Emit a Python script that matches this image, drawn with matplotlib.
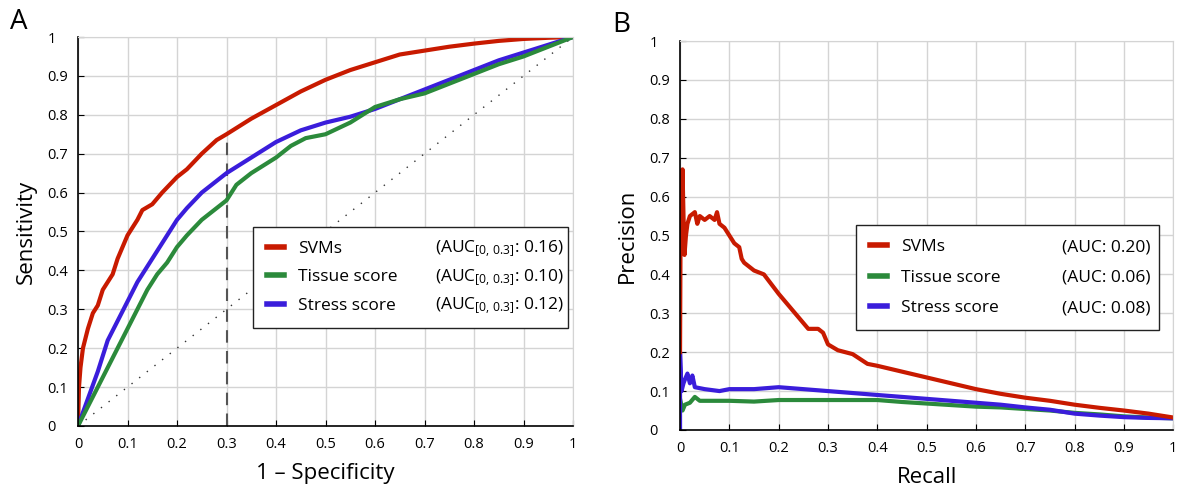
import numpy as np
import matplotlib.pyplot as plt
from matplotlib.lines import Line2D

plt.rcParams['font.family'] = ['Open Sans', 'DejaVu Sans']
plt.rcParams['mathtext.fontset'] = 'custom'
plt.rcParams['mathtext.rm'] = 'Open Sans'
plt.rcParams['mathtext.it'] = 'Open Sans:italic'

# ROC curves (1 - specificity, sensitivity)
svm_fpr = [0, 0.002, 0.005, 0.01, 0.02, 0.03, 0.04, 0.05, 0.06, 0.07, 0.08, 0.09, 0.1, 0.12, 0.13,
           0.15, 0.17, 0.2, 0.22, 0.25, 0.28, 0.3, 0.35, 0.4, 0.45, 0.5, 0.55, 0.6, 0.65, 0.7,
           0.75, 0.8, 0.85, 0.9, 0.95, 1]
svm_tpr = [0, 0.1, 0.15, 0.2, 0.25, 0.29, 0.31, 0.35, 0.37, 0.39, 0.43, 0.46, 0.49, 0.53, 0.555,
           0.57, 0.6, 0.64, 0.66, 0.7, 0.735, 0.75, 0.79, 0.825, 0.86, 0.89, 0.915, 0.935, 0.955, 0.965,
           0.975, 0.983, 0.99, 0.995, 0.998, 1]
tissue_fpr = [0, 0.02, 0.04, 0.06, 0.08, 0.1, 0.12, 0.14, 0.16, 0.18, 0.2, 0.22, 0.25, 0.28, 0.3,
              0.32, 0.35, 0.4, 0.43, 0.46, 0.5, 0.55, 0.6, 0.65, 0.7, 0.75, 0.8, 0.85, 0.9, 0.95, 1]
tissue_tpr = [0, 0.05, 0.1, 0.15, 0.2, 0.25, 0.3, 0.35, 0.39, 0.42, 0.46, 0.49, 0.53, 0.56, 0.58,
              0.62, 0.65, 0.69, 0.72, 0.74, 0.75, 0.78, 0.82, 0.84, 0.855, 0.88, 0.905, 0.93, 0.95, 0.975, 1]
stress_fpr = [0, 0.02, 0.04, 0.06, 0.08, 0.1, 0.12, 0.14, 0.16, 0.18, 0.2, 0.22, 0.25, 0.28, 0.3,
              0.35, 0.4, 0.45, 0.5, 0.55, 0.6, 0.65, 0.7, 0.75, 0.8, 0.85, 0.9, 0.95, 1]
stress_tpr = [0, 0.07, 0.14, 0.22, 0.27, 0.32, 0.37, 0.41, 0.45, 0.49, 0.53, 0.56, 0.6, 0.63, 0.65,
              0.69, 0.73, 0.76, 0.78, 0.795, 0.815, 0.84, 0.865, 0.89, 0.915, 0.94, 0.96, 0.98, 1]

# precision-recall curves
svm_rec = [0, 0.001, 0.003, 0.005, 0.007, 0.009, 0.012, 0.015, 0.02, 0.03, 0.035, 0.04, 0.05, 0.06,
           0.07, 0.075, 0.08, 0.09, 0.1, 0.11, 0.12, 0.125, 0.13, 0.15, 0.17, 0.2, 0.22, 0.24, 0.26,
           0.28, 0.29, 0.3, 0.32, 0.35, 0.38, 0.4, 0.45, 0.5, 0.55, 0.6, 0.65, 0.7, 0.75, 0.8, 0.85,
           0.9, 0.95, 1]
svm_prec = [0.2, 0.5, 0.55, 0.67, 0.55, 0.45, 0.5, 0.53, 0.55, 0.56, 0.53, 0.55, 0.54, 0.55,
            0.54, 0.56, 0.53, 0.52, 0.5, 0.48, 0.47, 0.44, 0.43, 0.41, 0.4, 0.35, 0.32, 0.29, 0.26,
            0.26, 0.25, 0.22, 0.205, 0.195, 0.17, 0.165, 0.15, 0.135, 0.12, 0.105, 0.093, 0.083, 0.075,
            0.065, 0.057, 0.05, 0.042, 0.032]
tissue_rec = [0, 0.005, 0.01, 0.02, 0.03, 0.04, 0.06, 0.1, 0.15, 0.2, 0.3, 0.4, 0.45, 0.5, 0.55,
              0.6, 0.65, 0.7, 0.75, 0.8, 0.85, 0.9, 0.95, 1]
tissue_prec = [0.08, 0.05, 0.065, 0.07, 0.085, 0.075, 0.075, 0.075, 0.073, 0.077, 0.077, 0.077, 0.072,
               0.068, 0.064, 0.06, 0.058, 0.054, 0.05, 0.044, 0.04, 0.035, 0.032, 0.03]
stress_rec = [0, 0, 0.003, 0.007, 0.01, 0.015, 0.02, 0.025, 0.03, 0.05, 0.08, 0.1, 0.15, 0.2, 0.25,
              0.3, 0.35, 0.4, 0.45, 0.5, 0.55, 0.6, 0.65, 0.7, 0.75, 0.8, 0.85, 0.9, 0.95, 1]
stress_prec = [0, 0.2, 0.1, 0.12, 0.13, 0.145, 0.12, 0.14, 0.11, 0.105, 0.1, 0.105, 0.105, 0.11, 0.105,
               0.1, 0.095, 0.09, 0.085, 0.08, 0.075, 0.07, 0.065, 0.058, 0.052, 0.042, 0.037, 0.033,
               0.031, 0.03]

names = ['SVMs', 'Tissue score', 'Stress score']
roc_auc = ['0.16', '0.10', '0.12']
pr_auc = ['0.20', '0.06', '0.08']
colors = ['#c81a00', '#2b8a3b', '#3a1ddb']

ticks = np.round(np.arange(0, 1.01, 0.1), 1)
tick_labels = ['0'] + ['%.1f' % t for t in ticks[1:-1]] + ['1']

fig = plt.figure(figsize=(12, 4.94), dpi=100)
ax1 = fig.add_axes([0.065, 0.1377, 0.4125, 0.7874])
ax2 = fig.add_axes([0.5667, 0.1296, 0.411, 0.7874])


def style(ax):
    ax.set_xlim(0, 1)
    ax.set_ylim(0, 1)
    ax.set_xticks(ticks)
    ax.set_yticks(ticks)
    ax.set_xticklabels(tick_labels)
    ax.set_yticklabels(tick_labels)
    ax.grid(True, color='#d4d4d4', linewidth=1)
    ax.set_axisbelow(True)
    for s in ['top', 'right']:
        ax.spines[s].set_color('#d4d4d4')
    for s in ['left', 'bottom']:
        ax.spines[s].set_linewidth(1.2)
    ax.tick_params(direction='in', length=4, labelsize=10.5, pad=8)
    ax.tick_params(axis='y', pad=22)
    for lab in ax.get_yticklabels():
        lab.set_horizontalalignment('left')


style(ax1)
style(ax2)

ax1.plot([0, 1], [0, 1], color='#333333', linestyle=(0, (1, 6)), linewidth=1)
ax1.plot([0.3, 0.3], [0, 0.735], color='#555555', linestyle=(0, (6, 4)), linewidth=1.5)
ax1.plot(svm_fpr, svm_tpr, color=colors[0], linewidth=3)
ax1.plot(stress_fpr, stress_tpr, color=colors[2], linewidth=3)
ax1.plot(tissue_fpr, tissue_tpr, color=colors[1], linewidth=3)

ax2.plot(tissue_rec, tissue_prec, color=colors[1], linewidth=3)
ax2.plot(stress_rec, stress_prec, color=colors[2], linewidth=3)
ax2.plot(svm_rec, svm_prec, color=colors[0], linewidth=3)

ax1.set_xlabel('1 – Specificity', fontsize=16, labelpad=8)
ax1.set_ylabel('Sensitivity', fontsize=16, labelpad=8)
ax2.set_xlabel('Recall', fontsize=16, labelpad=8)
ax2.set_ylabel('Precision', fontsize=16, labelpad=8)


def legend(ax, bbox, spacing):
    handles = [Line2D([], [], color=c, linewidth=4) for c in colors]
    leg = ax.legend(handles, names, loc='lower left', bbox_to_anchor=bbox, mode='expand',
                    borderaxespad=0, fontsize=12.5, handlelength=1.0, handletextpad=0.8,
                    labelspacing=spacing, borderpad=0.8, fancybox=False, framealpha=1,
                    edgecolor='#222222')
    leg.get_frame().set_linewidth(1.0)
    return leg


leg1 = legend(ax1, (0.354, 0.252, 0.636, 0.267), 0.72)
leg2 = legend(ax2, (0.357, 0.257, 0.615, 0.278), 0.82)

fig.canvas.draw()


def auc_texts(ax, leg, labels, x):
    for t, lab in zip(leg.get_texts(), labels):
        bb = t.get_window_extent()
        y = ax.transAxes.inverted().transform((0, (bb.y0 + bb.y1) / 2))[1]
        ax.text(x, y, lab, transform=ax.transAxes, fontsize=12.5, ha='right', va='center',
                zorder=10)


auc_texts(ax1, leg1, [r'(AUC$_{\mathrm{[0,\,0.3]}}$: %s)' % a for a in roc_auc], 0.983)
auc_texts(ax2, leg2, ['(AUC: %s)' % a for a in pr_auc], 0.953)

fig.text(0.008, 0.955, 'A', fontsize=20, va='center')
fig.text(0.51, 0.95, 'B', fontsize=20, va='center')

fig.savefig('out.png', dpi=100)
